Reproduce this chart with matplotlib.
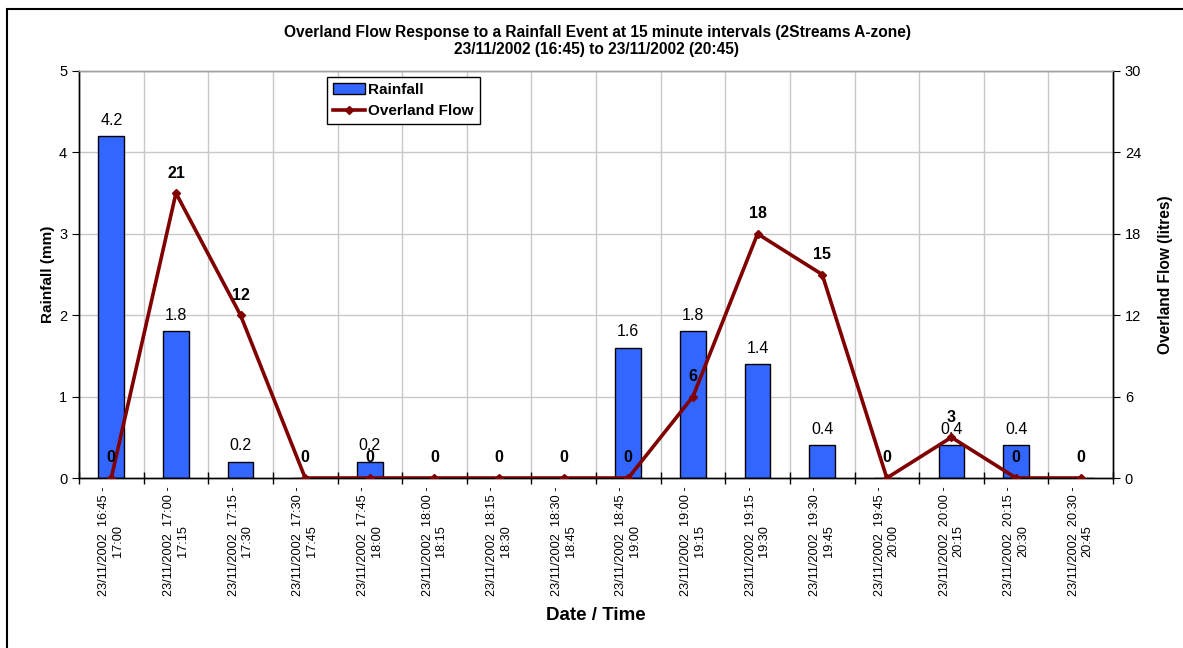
import matplotlib
matplotlib.use("Agg")
import matplotlib.pyplot as plt
from matplotlib.patches import Rectangle
from matplotlib.lines import Line2D
import numpy as np

plt.rcParams["font.family"] = ["Liberation Sans", "DejaVu Sans"]

periods = ["16:45 -\n17:00", "17:00 -\n17:15", "17:15 -\n17:30", "17:30 -\n17:45",
           "17:45 -\n18:00", "18:00 -\n18:15", "18:15 -\n18:30", "18:30 -\n18:45",
           "18:45 -\n19:00", "19:00 -\n19:15", "19:15 -\n19:30", "19:30 -\n19:45",
           "19:45 -\n20:00", "20:00 -\n20:15", "20:15 -\n20:30", "20:30 -\n20:45"]
date = "23/11/2002"
rainfall = [4.2, 1.8, 0.2, 0, 0.2, 0, 0, 0, 1.6, 1.8, 1.4, 0.4, 0, 0.4, 0.4, 0]
flow = [0, 21, 12, 0, 0, 0, 0, 0, 0, 6, 18, 15, 0, 3, 0, 0]

bar_blue = "#3366FF"
flow_red = "#800000"

fig = plt.figure(figsize=(11.83, 6.48), dpi=100)
ax = fig.add_axes([79 / 1183, 1 - 478 / 648, (1113 - 79) / 1183, (478 - 71) / 648])
ax2 = ax.twinx()

x = np.arange(len(periods))
ax.bar(x, rainfall, width=0.4, color=bar_blue, edgecolor="black", linewidth=1, zorder=2)
for xi, r in zip(x, rainfall):
    if r > 0:
        ax.annotate(f"{r:g}", (xi, r), xytext=(0, 6), textcoords="offset points",
                    ha="center", va="bottom", fontsize=11.5)

ax2.plot(x, flow, color=flow_red, lw=2.6, marker="D", ms=4.5, zorder=3)
for xi, f in zip(x, flow):
    ax2.annotate(f"{f}", (xi, f), xytext=(0, 9), textcoords="offset points",
                 ha="center", va="bottom", fontsize=11.5, fontweight="bold")

ax.set_xlim(-0.5, len(periods) - 0.5)
ax.set_ylim(0, 5)
ax2.set_ylim(0, 30)
ax.set_yticks(range(0, 6))
ax2.set_yticks(range(0, 31, 6))

# grid on category boundaries and on the rainfall ticks
for b in np.arange(0.5, len(periods) - 0.5):
    ax.axvline(b, color="#c8c8c8", lw=1, zorder=0)
for yv in range(1, 6):
    ax.axhline(yv, color="#c8c8c8", lw=1, zorder=0)

ax.set_xticks(np.arange(-0.5, len(periods)))
ax.set_xticklabels([])
ax.tick_params(axis="x", direction="inout", length=8, width=1)
ax.set_xticks(x, minor=True)
ax.set_xticklabels([f"{date}  {p}" for p in periods], minor=True, rotation=90,
                   fontsize=9.2, multialignment="center")
ax.tick_params(axis="x", which="minor", length=0, pad=6)
ax.tick_params(axis="y", direction="out", length=5, labelsize=10.5)
ax2.tick_params(axis="y", direction="out", length=5, labelsize=10.5)

for a in (ax, ax2):
    for s in a.spines.values():
        s.set_linewidth(1)
ax.spines["top"].set_color("#a0a0a0")
ax2.spines["top"].set_color("#a0a0a0")

ax.set_ylabel("Rainfall (mm)", fontsize=11, fontweight="bold", labelpad=3)
ax2.set_ylabel("Overland Flow (litres)", fontsize=11.2, fontweight="bold", labelpad=12)
fig.text(596 / 1183, 1 - 615 / 648, "Date / Time", ha="center", va="center",
         fontsize=13.5, fontweight="bold")
fig.text(597 / 1183, 1 - 41 / 648,
         "Overland Flow Response to a Rainfall Event at 15 minute intervals (2Streams A-zone)\n"
         "23/11/2002 (16:45) to 23/11/2002 (20:45)",
         ha="center", va="center", fontsize=11.2, fontweight="bold", linespacing=1.15)

handles = [Rectangle((0, 0), 1, 1, facecolor=bar_blue, edgecolor="black", lw=1),
           Line2D([], [], color=flow_red, lw=2.6, marker="D", ms=4.5)]
leg = fig.legend(handles, ["Rainfall", "Overland Flow"], loc="upper left",
                 bbox_to_anchor=(327 / 1183, 1 - 77 / 648), fancybox=False,
                 edgecolor="black", framealpha=1, prop={"weight": "bold", "size": 11},
                 handlelength=2.1, handletextpad=0.2, borderpad=0.4, labelspacing=0.45,
                 borderaxespad=0)
leg.get_frame().set_linewidth(1)

# chart border
fig.patches.append(Rectangle((7 / 1183, -0.1), 1.2, 1 - 9 / 648 + 0.1,
                             transform=fig.transFigure, fill=False,
                             edgecolor="black", lw=1.5))

fig.savefig("out.png", dpi=100)
